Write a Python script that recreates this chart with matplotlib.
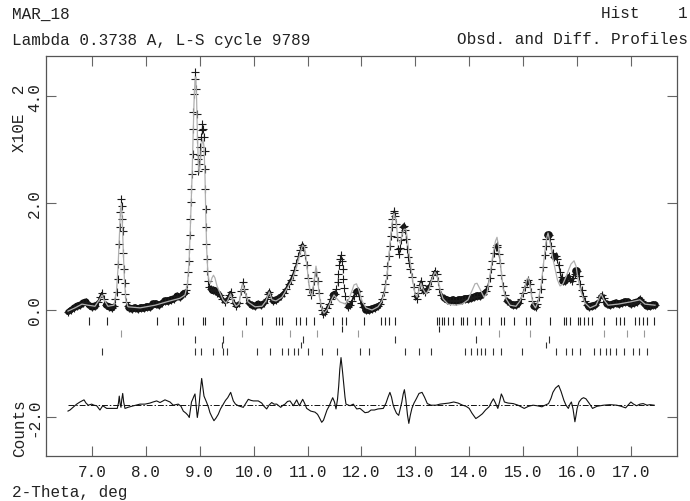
import matplotlib
matplotlib.use('Agg')
import matplotlib.pyplot as plt
from matplotlib.collections import LineCollection

## GSAS style plot : obs (+), calc (gray line), diff (offset), reflection ticks
# values, intensity in units of 10^2 counts

obs_tth = [6.555, 6.610, 6.666, 6.722, 6.777, 6.833, 6.889, 6.944, 7.000, 7.056,
           7.111, 7.148, 7.186, 7.223, 7.260, 7.315, 7.371, 7.408, 7.427, 7.458,
           7.477, 7.488, 7.501, 7.514, 7.525, 7.538, 7.551, 7.562, 7.570, 7.581,
           7.594, 7.607, 7.618, 7.636, 7.659, 7.686, 7.742, 7.798, 7.853, 7.909,
           7.965, 8.020, 8.076, 8.132, 8.187, 8.243, 8.299, 8.354, 8.410, 8.466,
           8.521, 8.577, 8.633, 8.688, 8.725, 8.753, 8.768, 8.787, 8.800, 8.809,
           8.818, 8.827, 8.837, 8.846, 8.855, 8.865, 8.874, 8.883, 8.896, 8.907,
           8.917, 8.930, 8.941, 8.952, 8.963, 8.974, 8.985, 8.996, 9.009, 9.022,
           9.035, 9.050, 9.065, 9.078, 9.089, 9.096, 9.104, 9.109, 9.115, 9.122,
           9.130, 9.141, 9.156, 9.180, 9.208, 9.236, 9.282, 9.328, 9.375, 9.421,
           9.468, 9.514, 9.542, 9.570, 9.597, 9.635, 9.681, 9.727, 9.764, 9.796,
           9.829, 9.866, 9.913, 9.968, 10.024, 10.080, 10.135, 10.191, 10.238, 10.265,
           10.293, 10.330, 10.367, 10.414, 10.460, 10.507, 10.553, 10.599, 10.646, 10.683,
           10.720, 10.757, 10.794, 10.831, 10.868, 10.902, 10.924, 10.952, 10.980, 11.007,
           11.035, 11.063, 11.091, 11.119, 11.156, 11.184, 11.212, 11.239, 11.267, 11.295,
           11.323, 11.360, 11.397, 11.434, 11.471, 11.508, 11.536, 11.555, 11.573, 11.588,
           11.605, 11.620, 11.635, 11.648, 11.663, 11.679, 11.700, 11.722, 11.750, 11.787,
           11.824, 11.861, 11.898, 11.926, 11.954, 11.991, 12.028, 12.084, 12.139, 12.195,
           12.250, 12.306, 12.343, 12.380, 12.417, 12.445, 12.464, 12.482, 12.501, 12.520,
           12.538, 12.557, 12.575, 12.594, 12.609, 12.625, 12.640, 12.659, 12.677, 12.696,
           12.714, 12.733, 12.751, 12.770, 12.789, 12.807, 12.826, 12.844, 12.863, 12.881,
           12.909, 12.937, 12.965, 12.993, 13.021, 13.048, 13.076, 13.098, 13.122, 13.150,
           13.178, 13.215, 13.252, 13.289, 13.327, 13.364, 13.392, 13.419, 13.447, 13.484,
           13.531, 13.586, 13.642, 13.698, 13.753, 13.809, 13.865, 13.920, 13.976, 14.032,
           14.087, 14.143, 14.199, 14.254, 14.301, 14.338, 14.375, 14.403, 14.430, 14.458,
           14.486, 14.505, 14.523, 14.542, 14.570, 14.597, 14.625, 14.662, 14.699, 14.755,
           14.811, 14.866, 14.922, 14.959, 14.996, 15.033, 15.070, 15.095, 15.117, 15.145,
           15.172, 15.200, 15.228, 15.256, 15.293, 15.321, 15.349, 15.373, 15.395, 15.414,
           15.432, 15.451, 15.470, 15.488, 15.516, 15.544, 15.571, 15.599, 15.627, 15.655,
           15.683, 15.711, 15.738, 15.776, 15.813, 15.841, 15.868, 15.896, 15.924, 15.952,
           15.980, 16.004, 16.026, 16.054, 16.082, 16.109, 16.147, 16.184, 16.221, 16.277,
           16.332, 16.388, 16.425, 16.457, 16.490, 16.518, 16.555, 16.611, 16.666, 16.722,
           16.778, 16.833, 16.889, 16.945, 17.000, 17.056, 17.111, 17.166, 17.204, 17.241,
           17.297, 17.352, 17.408, 17.445]
obs_cnt = [-0.04, 0.00, 0.04, 0.07, 0.09, 0.13, 0.15, 0.09, 0.06, 0.07,
           0.15, 0.24, 0.32, 0.21, 0.09, 0.06, 0.04, 0.07, 0.21, 0.34,
           0.58, 0.86, 1.23, 1.55, 1.83, 2.07, 1.94, 1.70, 1.48, 1.07,
           0.77, 0.50, 0.30, 0.15, 0.07, 0.04, 0.02, 0.04, 0.02, 0.04,
           0.04, 0.06, 0.06, 0.11, 0.11, 0.09, 0.13, 0.17, 0.17, 0.19,
           0.21, 0.26, 0.24, 0.30, 0.32, 0.37, 0.49, 0.71, 0.92, 1.14,
           1.40, 1.70, 2.02, 2.26, 2.54, 2.92, 3.38, 3.70, 4.04, 4.32,
           4.45, 4.13, 3.66, 3.20, 2.82, 2.60, 2.73, 2.90, 3.05, 3.23,
           3.36, 3.48, 3.38, 3.23, 2.97, 2.64, 2.26, 1.89, 1.55, 1.23,
           0.95, 0.73, 0.54, 0.43, 0.39, 0.37, 0.36, 0.32, 0.28, 0.21,
           0.15, 0.21, 0.28, 0.34, 0.24, 0.13, 0.07, 0.13, 0.36, 0.52,
           0.39, 0.24, 0.13, 0.09, 0.07, 0.11, 0.09, 0.13, 0.21, 0.30,
           0.34, 0.24, 0.17, 0.19, 0.22, 0.26, 0.32, 0.39, 0.49, 0.56,
           0.65, 0.75, 0.88, 1.01, 1.12, 1.21, 1.18, 1.03, 0.84, 0.60,
           0.39, 0.28, 0.37, 0.54, 0.71, 0.54, 0.32, 0.13, 0.00, -0.07,
           -0.04, 0.04, 0.11, 0.21, 0.28, 0.30, 0.39, 0.52, 0.67, 0.84,
           0.95, 1.03, 0.92, 0.77, 0.58, 0.41, 0.26, 0.13, 0.06, 0.09,
           0.17, 0.26, 0.34, 0.36, 0.26, 0.13, 0.06, 0.00, 0.00, 0.02,
           0.04, 0.07, 0.11, 0.21, 0.34, 0.49, 0.65, 0.82, 1.01, 1.20,
           1.38, 1.55, 1.70, 1.81, 1.85, 1.76, 1.61, 1.36, 1.14, 1.05,
           1.16, 1.31, 1.46, 1.55, 1.57, 1.50, 1.33, 1.14, 0.99, 0.88,
           0.77, 0.62, 0.43, 0.26, 0.21, 0.32, 0.47, 0.54, 0.47, 0.37,
           0.34, 0.39, 0.45, 0.54, 0.65, 0.73, 0.67, 0.54, 0.39, 0.28,
           0.22, 0.19, 0.17, 0.19, 0.17, 0.19, 0.19, 0.21, 0.21, 0.22,
           0.24, 0.26, 0.26, 0.30, 0.36, 0.45, 0.60, 0.77, 0.92, 1.07,
           1.18, 1.21, 1.18, 1.05, 0.88, 0.65, 0.45, 0.28, 0.17, 0.13,
           0.09, 0.09, 0.13, 0.21, 0.32, 0.43, 0.52, 0.56, 0.49, 0.34,
           0.17, 0.07, 0.06, 0.11, 0.24, 0.39, 0.58, 0.80, 1.03, 1.20,
           1.33, 1.40, 1.40, 1.33, 1.20, 1.07, 0.99, 1.01, 0.95, 0.84,
           0.71, 0.62, 0.54, 0.54, 0.60, 0.64, 0.58, 0.54, 0.60, 0.67,
           0.73, 0.73, 0.64, 0.49, 0.37, 0.26, 0.17, 0.09, 0.06, 0.07,
           0.09, 0.15, 0.24, 0.28, 0.22, 0.15, 0.11, 0.09, 0.11, 0.13,
           0.11, 0.13, 0.15, 0.15, 0.11, 0.13, 0.15, 0.21, 0.17, 0.11,
           0.07, 0.07, 0.09, 0.09]

calc_tth = [6.555, 6.685, 6.814, 6.926, 7.056, 7.148, 7.186, 7.223, 7.297, 7.408,
            7.455, 7.482, 7.510, 7.529, 7.544, 7.560, 7.581, 7.603, 7.631, 7.668,
            7.891, 8.169, 8.447, 8.633, 8.725, 8.772, 8.800, 8.827, 8.855, 8.874,
            8.892, 8.911, 8.926, 8.941, 8.958, 8.976, 8.991, 9.013, 9.037, 9.059,
            9.078, 9.096, 9.111, 9.128, 9.148, 9.171, 9.198, 9.226, 9.254, 9.282,
            9.319, 9.375, 9.430, 9.486, 9.523, 9.570, 9.616, 9.672, 9.727, 9.792,
            9.839, 9.894, 10.024, 10.154, 10.228, 10.289, 10.340, 10.414, 10.525, 10.636,
            10.711, 10.785, 10.859, 10.906, 10.943, 10.970, 11.007, 11.045, 11.082, 11.119,
            11.156, 11.184, 11.221, 11.267, 11.304, 11.360, 11.434, 11.490, 11.545, 11.601,
            11.657, 11.712, 11.768, 11.824, 11.861, 11.907, 11.954, 12.009, 12.084, 12.195,
            12.306, 12.380, 12.436, 12.492, 12.529, 12.566, 12.603, 12.640, 12.677, 12.714,
            12.751, 12.789, 12.826, 12.863, 12.900, 12.946, 12.993, 13.030, 13.067, 13.104,
            13.141, 13.197, 13.252, 13.308, 13.364, 13.401, 13.456, 13.512, 13.605, 13.735,
            13.865, 13.976, 14.050, 14.105, 14.143, 14.199, 14.273, 14.329, 14.384, 14.440,
            14.486, 14.514, 14.551, 14.588, 14.625, 14.681, 14.755, 14.866, 14.941, 15.015,
            15.070, 15.098, 15.126, 15.182, 15.228, 15.274, 15.330, 15.386, 15.432, 15.460,
            15.497, 15.544, 15.590, 15.636, 15.683, 15.738, 15.794, 15.850, 15.887, 15.943,
            15.980, 16.017, 16.072, 16.147, 16.240, 16.351, 16.444, 16.499, 16.573, 16.759,
            16.982, 17.166, 17.259, 17.445]
calc_cnt = [-0.02, 0.04, 0.11, 0.09, 0.07, 0.21, 0.28, 0.19, 0.07, 0.09,
            0.36, 0.77, 1.42, 1.85, 1.98, 1.74, 1.10, 0.54, 0.17, 0.06,
            0.04, 0.09, 0.17, 0.22, 0.28, 0.49, 0.86, 1.61, 2.45, 3.20,
            3.85, 4.28, 4.36, 3.94, 3.20, 2.67, 2.56, 2.82, 3.10, 3.20,
            3.05, 2.54, 1.79, 1.14, 0.73, 0.54, 0.50, 0.60, 0.65, 0.60,
            0.45, 0.32, 0.19, 0.13, 0.19, 0.30, 0.17, 0.07, 0.11, 0.49,
            0.36, 0.15, 0.06, 0.07, 0.17, 0.34, 0.19, 0.17, 0.24, 0.43,
            0.56, 0.77, 1.05, 1.21, 1.18, 0.99, 0.65, 0.34, 0.26, 0.54,
            0.82, 0.62, 0.24, 0.02, -0.06, 0.00, 0.17, 0.28, 0.21, 0.15,
            0.13, 0.11, 0.21, 0.36, 0.47, 0.49, 0.36, 0.17, 0.04, 0.00,
            0.06, 0.17, 0.36, 0.80, 1.23, 1.61, 1.81, 1.66, 1.33, 1.25,
            1.40, 1.51, 1.51, 1.23, 0.92, 0.58, 0.30, 0.24, 0.37, 0.50,
            0.39, 0.30, 0.39, 0.58, 0.71, 0.65, 0.39, 0.21, 0.11, 0.09,
            0.11, 0.19, 0.36, 0.49, 0.50, 0.39, 0.24, 0.32, 0.65, 1.05,
            1.29, 1.36, 1.14, 0.77, 0.41, 0.21, 0.09, 0.07, 0.17, 0.36,
            0.58, 0.60, 0.45, 0.11, 0.04, 0.15, 0.45, 0.95, 1.33, 1.44,
            1.27, 0.99, 0.77, 0.56, 0.45, 0.49, 0.62, 0.77, 0.86, 0.92,
            0.82, 0.58, 0.34, 0.13, 0.04, 0.09, 0.30, 0.19, 0.09, 0.11,
            0.15, 0.19, 0.11, 0.09]

# obs - calc, drawn around DIFF_BASE
diff_tth = [6.555, 6.592, 6.647, 6.716, 6.777, 6.852, 6.889, 6.931, 6.994, 7.037,
            7.087, 7.148, 7.199, 7.273, 7.334, 7.395, 7.469, 7.491, 7.506, 7.523,
            7.538, 7.553, 7.570, 7.588, 7.612, 7.668, 7.737, 7.816, 7.891, 7.983,
            8.076, 8.132, 8.200, 8.262, 8.354, 8.447, 8.508, 8.601, 8.651, 8.694,
            8.744, 8.781, 8.805, 8.827, 8.846, 8.868, 8.892, 8.911, 8.930, 8.954,
            8.972, 8.991, 9.013, 9.035, 9.055, 9.078, 9.128, 9.161, 9.189, 9.226,
            9.263, 9.301, 9.343, 9.384, 9.436, 9.477, 9.518, 9.573, 9.622, 9.662,
            9.714, 9.807, 9.857, 9.900, 9.950, 9.993, 10.085, 10.149, 10.191, 10.241,
            10.284, 10.334, 10.377, 10.427, 10.501, 10.544, 10.581, 10.627, 10.674, 10.735,
            10.798, 10.846, 10.909, 10.943, 10.983, 11.058, 11.137, 11.184, 11.217, 11.262,
            11.295, 11.323, 11.360, 11.403, 11.434, 11.466, 11.499, 11.527, 11.555, 11.577,
            11.597, 11.620, 11.644, 11.675, 11.694, 11.712, 11.787, 11.848, 11.911, 11.972,
            12.065, 12.126, 12.176, 12.239, 12.306, 12.404, 12.455, 12.492, 12.527, 12.557,
            12.584, 12.609, 12.649, 12.690, 12.724, 12.748, 12.774, 12.796, 12.822, 12.854,
            12.878, 12.905, 12.935, 12.974, 13.017, 13.067, 13.123, 13.169, 13.221, 13.290,
            13.384, 13.456, 13.547, 13.623, 13.711, 13.791, 13.876, 13.939, 13.998, 14.050,
            14.121, 14.180, 14.243, 14.301, 14.366, 14.412, 14.447, 14.486, 14.529, 14.561,
            14.594, 14.622, 14.651, 14.718, 14.815, 14.904, 15.019, 15.099, 15.182, 15.256,
            15.347, 15.405, 15.470, 15.516, 15.551, 15.599, 15.657, 15.701, 15.755, 15.794,
            15.837, 15.868, 15.894, 15.924, 15.959, 15.980, 16.000, 16.035, 16.082, 16.119,
            16.163, 16.221, 16.286, 16.369, 16.490, 16.611, 16.735, 16.815, 16.900, 16.945,
            16.997, 17.047, 17.104, 17.166, 17.226, 17.297, 17.352, 17.430]
diff_cnt = [-0.11, -0.09, -0.04, 0.02, 0.06, 0.10, 0.04, 0.00, 0.02, 0.00,
            -0.01, -0.09, -0.01, -0.06, -0.06, -0.06, -0.06, 0.04, 0.17, 0.02,
            -0.04, 0.11, 0.22, 0.06, -0.06, -0.04, -0.02, 0.00, 0.02, 0.02,
            0.04, 0.06, 0.08, 0.05, 0.10, 0.06, 0.00, 0.02, -0.02, -0.11,
            -0.15, -0.19, -0.23, -0.07, 0.06, 0.11, 0.17, 0.21, 0.02, -0.23,
            -0.11, 0.05, 0.30, 0.50, 0.34, 0.17, 0.05, -0.04, -0.14, -0.22,
            -0.29, -0.24, -0.17, -0.07, 0.02, 0.09, 0.14, 0.24, 0.08, 0.02,
            -0.01, -0.04, 0.04, 0.11, 0.09, 0.08, 0.08, 0.04, -0.02, -0.07,
            0.00, 0.05, 0.02, 0.02, -0.04, 0.00, 0.02, 0.07, 0.08, -0.01,
            0.10, -0.01, 0.11, 0.04, -0.06, -0.11, -0.13, -0.17, -0.23, -0.32,
            -0.28, -0.20, -0.09, -0.01, 0.07, 0.14, 0.06, -0.07, 0.11, 0.36,
            0.67, 0.89, 0.67, 0.36, 0.15, 0.02, -0.01, 0.02, -0.07, -0.06,
            -0.14, -0.13, -0.09, -0.09, -0.07, -0.06, 0.04, 0.15, 0.24, 0.15,
            0.02, -0.06, -0.15, -0.19, -0.04, 0.06, 0.21, 0.29, 0.11, -0.19,
            -0.34, -0.19, -0.06, 0.04, 0.12, 0.22, 0.24, 0.15, 0.03, 0.00,
            0.00, 0.02, 0.03, 0.04, 0.06, 0.04, 0.00, -0.02, -0.06, -0.15,
            -0.25, -0.21, -0.16, -0.09, -0.03, 0.06, 0.12, 0.04, -0.06, 0.06,
            0.21, 0.15, 0.06, 0.04, 0.03, 0.00, -0.06, -0.02, 0.00, -0.01,
            -0.03, 0.00, 0.03, 0.13, 0.24, 0.32, 0.37, 0.26, 0.09, 0.00,
            -0.06, 0.02, 0.06, -0.07, -0.31, -0.19, -0.06, 0.06, 0.12, 0.14,
            0.12, 0.04, -0.06, -0.02, 0.00, 0.01, 0.00, -0.02, -0.05, 0.00,
            0.06, 0.02, -0.01, 0.02, 0.03, 0.00, 0.01, 0.00]

# reflection positions (2-theta) for each tick row
refl_row1 = [6.937, 7.275, 8.210, 8.594, 8.688, 9.058, 9.093, 9.425, 9.866, 10.161,
             10.419, 10.469, 10.529, 10.787, 10.861, 10.970, 11.119, 11.471, 11.633, 11.707,
             12.039, 12.369, 12.443, 12.518, 12.627, 13.401, 13.438, 13.488, 13.533, 13.607,
             13.696, 13.842, 13.880, 13.952, 14.100, 14.210, 14.358, 14.579, 14.651, 14.837,
             15.058, 15.130, 15.499, 15.757, 15.794, 15.867, 16.015, 16.050, 16.124, 16.199,
             16.271, 16.494, 16.714, 16.787, 16.861, 17.082, 17.156, 17.228, 17.303, 17.427]
refl_row1b = [11.633, 13.438]
refl_row2 = [7.547, 9.792, 10.677, 11.176, 11.943, 14.542, 15.130, 16.507, 16.920, 17.243]
refl_row3 = [8.909, 9.425, 10.913, 12.627, 14.123, 15.477]
refl_row3b = [9.420, 10.883, 15.425]
refl_row4 = [7.180, 8.909, 9.020, 9.241, 9.425, 9.499, 10.065, 10.308, 10.529, 10.640,
             10.750, 10.824, 11.007, 11.265, 11.545, 11.965, 12.148, 12.811, 13.069, 13.289,
             13.917, 14.030, 14.137, 14.213, 14.299, 14.434, 14.581, 14.983, 15.609, 15.794,
             15.904, 16.050, 16.308, 16.419, 16.529, 16.603, 16.714, 16.861, 17.045, 17.156,
             17.288]

x_ticks = [7.0, 8.0, 9.0, 10.0, 11.0, 12.0, 13.0, 14.0, 15.0, 16.0, 17.0]
y_ticks = [-2.0, 0.0, 2.0, 4.0]

DIFF_BASE = -1.78
FS = 11.5


def draw_ticks(ax, rows):
    for pos, y0, y1, col in rows:
        ax.vlines(pos, y0, y1, colors=col, linewidth=0.8)


def obs_band(ax, xs, ys):
    # the dense obs points merge into a black band where the profile is flat
    pts = ax.transData.transform(list(zip(xs, ys)))
    segs, widths = [], []
    for i in range(len(xs) - 1):
        dx = abs(pts[i + 1][0] - pts[i][0])
        dy = abs(pts[i + 1][1] - pts[i][1])
        s = dy / max(dx, 1e-6)
        segs.append([(xs[i], ys[i]), (xs[i + 1], ys[i + 1])])
        widths.append(5.5 / (1 + (s / 1.3) ** 2))
    lc = LineCollection(segs, linewidths=widths, colors='#111111', capstyle='round', zorder=2)
    ax.add_collection(lc)


def main():
    plt.rcParams['axes.unicode_minus'] = False
    plt.rcParams['font.family'] = ['Liberation Mono', 'DejaVu Sans Mono']

    fig = plt.figure(figsize=(6.9, 5.02), dpi=100)
    ax = fig.add_axes([46 / 690, 45 / 502, 631 / 690, 400 / 502])
    ax.set_xlim(6.147, 17.853)
    ax.set_ylim(-2.73, 4.75)

    obs_band(ax, obs_tth, obs_cnt)
    ax.plot(obs_tth, obs_cnt, '+', color='#1a1a1a', markersize=5.8, markeredgewidth=0.8, zorder=2)
    ax.plot(calc_tth, calc_cnt, color='#b0b0b0', linewidth=0.9, zorder=3)

    diff_y = [d + DIFF_BASE for d in diff_cnt]
    ax.plot(diff_tth, diff_y, color='#111111', linewidth=0.8)
    ax.hlines(DIFF_BASE, diff_tth[0], diff_tth[-1], colors='#111111', linewidth=0.7,
              linestyles=[(0, (6, 2, 1.5, 2))])

    draw_ticks(ax, [(refl_row1, -0.28, -0.13, '#222222'),
                    (refl_row1b, -0.42, -0.30, '#222222'),
                    (refl_row2, -0.50, -0.37, '#999999'),
                    (refl_row3, -0.62, -0.49, '#333333'),
                    (refl_row3b, -0.71, -0.60, '#333333'),
                    (refl_row4, -0.84, -0.71, '#333333')])

    ax.set_xticks(x_ticks)
    ax.set_xticklabels(['%.1f' % t for t in x_ticks], fontsize=FS)
    ax.set_yticks(y_ticks)
    ax.set_yticklabels(['%.1f' % t for t in y_ticks], fontsize=FS, rotation=90, va='center')
    ax.tick_params(direction='in', top=True, right=True, length=7, width=0.8,
                   color='#666666', labelcolor='#222222')
    ax.tick_params(axis='x', pad=6)
    ax.tick_params(axis='y', pad=3)
    for sp in ax.spines.values():
        sp.set_color('#555555')
        sp.set_linewidth(0.9)

    fig.text(12 / 690, 1 - 14 / 502, 'MAR_18', fontsize=FS, va='center', color='#222222')
    fig.text(688 / 690, 1 - 14 / 502, 'Hist    1', fontsize=FS, va='center', ha='right', color='#222222')
    fig.text(12 / 690, 1 - 40 / 502, 'Lambda 0.3738 A, L-S cycle 9789', fontsize=FS, va='center', color='#222222')
    fig.text(688 / 690, 1 - 40 / 502, 'Obsd. and Diff. Profiles', fontsize=FS, va='center', ha='right', color='#222222')
    fig.text(20 / 690, 1 - 118 / 502, 'X10E  2', fontsize=FS, rotation=90, va='center', ha='center', color='#222222')
    fig.text(20 / 690, 1 - 428 / 502, 'Counts', fontsize=FS, rotation=90, va='center', ha='center', color='#222222')
    fig.text(12 / 690, 1 - 493 / 502, '2-Theta, deg', fontsize=FS, va='center', color='#222222')

    fig.savefig('out.png', dpi=100)


main()
